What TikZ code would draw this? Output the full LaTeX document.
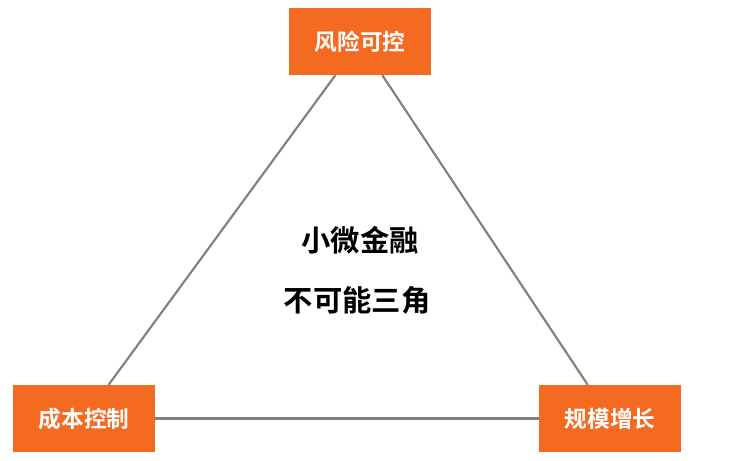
\documentclass[tikz,border=0pt]{standalone}
\usepackage{fontspec}
\newfontfamily\cjk[BoldFont={Noto Sans CJK SC Bold}]{Noto Sans CJK SC}
\definecolor{boxorange}{RGB}{245,106,33}
\definecolor{edgegray}{RGB}{128,128,128}
\tikzset{
  corner/.style={fill=boxorange, text=white, font=\cjk\bfseries\fontsize{17}{20}\selectfont,
    minimum width=106pt, minimum height=50pt, inner sep=0pt},
  edge/.style={draw=edgegray, line width=1.6pt}
}
\begin{document}
\begin{tikzpicture}[x=0.75pt,y=-0.75pt]
  \useasboundingbox (0,0) rectangle (731,460);
  %corners
  \node[corner] (risk) at (360,41.5) {风险可控};
  \node[corner] (cost) at (84,418.5) {成本控制};
  \node[corner] (scale) at (610,418.5) {规模增长};
  %sides
  \begin{scope}[on background layer/.try]
  \end{scope}
  \path (risk.center) -- (cost.center) coordinate[pos=0] (dummy);
  %title
  \node[font=\cjk\bfseries\fontsize{22}{26}\selectfont] (title1) at (360,240) {小微金融};
  \node[font=\cjk\bfseries\fontsize{22}{26}\selectfont] (title2) at (357,300) {不可能三角};
  \draw[edge] (risk) -- (cost);
  \draw[edge] (risk) -- (scale);
  \draw[edge] (cost) -- (scale);
\end{tikzpicture}
\end{document}
